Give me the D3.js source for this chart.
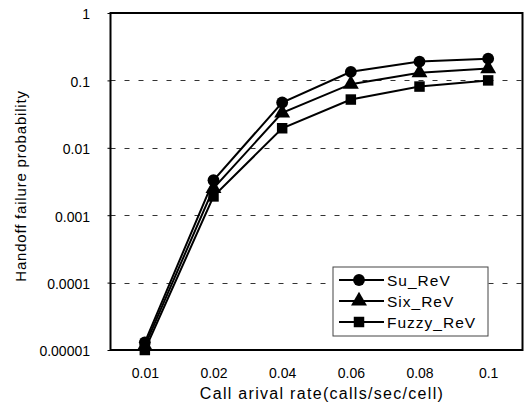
<!DOCTYPE html>
<html><head><meta charset="utf-8">
<script src="https://cdn.jsdelivr.net/npm/d3@7"></script>
<style>body{margin:0;background:#fff}svg{display:block}text{font-family:"Liberation Sans",Arial,sans-serif;fill:#000}</style>
</head><body><svg id="c" width="528" height="411"></svg>
<script>
const categories = ["0.01","0.02","0.04","0.06","0.08","0.1"];
const yTicks = [1,0.1,0.01,0.001,0.0001,0.00001];
const yTickLabels = ["1","0.1","0.01","0.001","0.0001","0.00001"];
const suRev = [0.000013,0.0033,0.047,0.134,0.19,0.21];
const sixRev = [0.0000115,0.0025,0.033,0.088,0.13,0.15];
const fuzzyRev = [0.00001,0.0019,0.0195,0.052,0.081,0.1];
const seriesNames = ["Su_ReV","Six_ReV","Fuzzy_ReV"];
const seriesSymbols = [d3.symbolCircle,d3.symbolTriangle,d3.symbolSquare];
const series = [suRev,sixRev,fuzzyRev];

const svg = d3.select("#c");
const L=110.5,R=522.5,T=13,B=350;
const x = d3.scalePoint().domain(categories).range([L,R]).padding(0.5);
const y = d3.scaleLog().domain([0.00001,1]).range([B,T]);

// gridlines
svg.append("g").selectAll("line").data(yTicks.slice(1,5)).join("line")
  .attr("x1",L).attr("x2",R).attr("y1",d=>Math.round(y(d))+0.5).attr("y2",d=>Math.round(y(d))+0.5)
  .attr("stroke","#333").attr("stroke-width",1).attr("stroke-dasharray","5,9");

// y axis
const ya = svg.append("g").attr("transform",`translate(${L},0)`)
  .call(d3.axisLeft(y).tickValues(yTicks).tickFormat((d,i)=>yTickLabels[i]).tickSize(3).tickPadding(17.5));
ya.select(".domain").remove();
ya.selectAll("text").style("font-size","14px").attr("dy","0.42em");
ya.selectAll("line").attr("stroke","#000");

// x axis labels
const xa = svg.append("g").attr("transform",`translate(0,${B})`)
  .call(d3.axisBottom(x).tickSize(0).tickPadding(18));
xa.select(".domain").remove();
xa.selectAll("text").style("font-size","14px");

// frame
svg.append("rect").attr("x",L).attr("y",T).attr("width",R-L).attr("height",B-T)
  .attr("fill","none").attr("stroke","#000").attr("stroke-width",2);

// lines
const line = d3.line().x((d,i)=>x(categories[i])).y(d=>y(d));
series.forEach((s,k)=>{
  svg.append("path").datum(s).attr("d",line).attr("fill","none").attr("stroke","#000").attr("stroke-width",2);
  svg.append("g").selectAll("path").data(s).join("path")
    .attr("transform",(d,i)=>`translate(${x(categories[i])},${y(d)})`)
    .attr("d",d3.symbol().type(seriesSymbols[k]).size(110))
    .attr("fill","#000");
});

// legend
const lg = svg.append("g");
lg.append("rect").attr("x",333).attr("y",267).attr("width",155).attr("height",69)
  .attr("fill","#fff").attr("stroke","#444").attr("stroke-width",1);
seriesNames.forEach((n,k)=>{
  const yy = 280 + k*21;
  lg.append("line").attr("x1",339).attr("x2",384).attr("y1",yy).attr("y2",yy).attr("stroke","#000").attr("stroke-width",2);
  lg.append("path").attr("transform",`translate(359,${yy})`).attr("d",d3.symbol().type(seriesSymbols[k]).size(110)).attr("fill","#000");
  lg.append("text").attr("x",387).attr("y",yy).attr("dy","0.36em").style("font-size","15.5px").style("letter-spacing","1px").text(n);
});

// titles
svg.append("text").attr("x",322).attr("y",399).attr("text-anchor","middle").style("font-size","16px").style("letter-spacing","1.3px")
  .text("Call arival rate(calls/sec/cell)");
svg.append("text").attr("transform","translate(26,186) rotate(-90)").attr("text-anchor","middle").style("font-size","15px").style("letter-spacing","0.8px")
  .text("Handoff failure probability");
</script></body></html>
